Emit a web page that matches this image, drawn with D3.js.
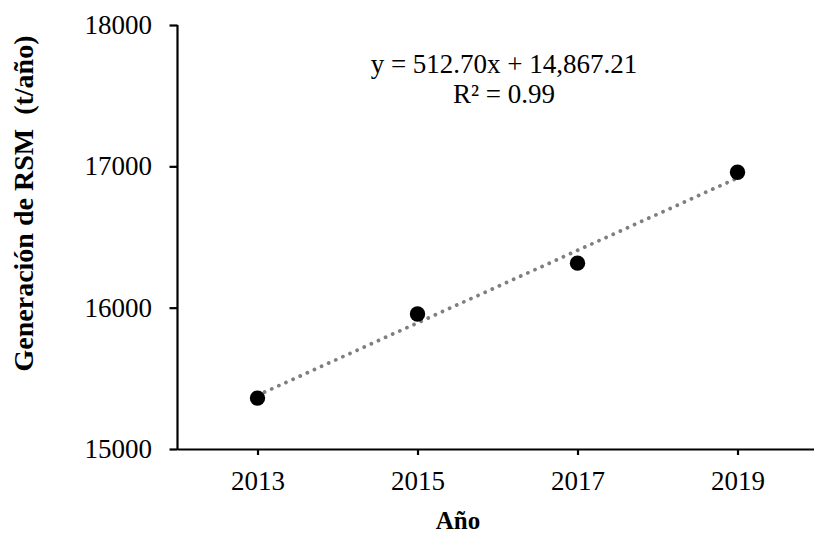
<!DOCTYPE html>
<html>
<head>
<meta charset="utf-8">
<script src="https://cdn.jsdelivr.net/npm/d3@7"></script>
<style>
  html, body { margin: 0; padding: 0; background: #fff; }
  svg { display: block; }
</style>
</head>
<body>
<script>
// Generación de residuos sólidos municipales por año
const years = [2013, 2015, 2017, 2019];
const generation = [15360, 15955, 16315, 16958];
const xTicks = [2013, 2015, 2017, 2019];
const yTicks = [15000, 16000, 17000, 18000];
// Ajuste lineal y = a·x + b con x = 1..4 (índice de cada año)
const trendSlope = 512.70;
const trendIntercept = 14867.21;
const trendIndex = [1, 4];
const trendYears = [2013, 2019];
const equationLines = ["y = 512.70x + 14,867.21", "R\u00B2 = 0.99"];

const SERIF = "'Liberation Serif', 'Times New Roman', serif";
const W = 814, H = 533;
const svg = d3.select("body").append("svg").attr("width", W).attr("height", H);

const x = d3.scaleLinear().domain([2012, 2020]).range([177.5, 817.5]);
const y = d3.scaleLinear().domain([15000, 18000]).range([449, 25]);

// Ejes
const gx = svg.append("g").attr("transform", `translate(0,${y(15000)})`)
  .call(d3.axisBottom(x).tickValues(xTicks).tickFormat(d3.format("d"))
    .tickSize(6).tickSizeOuter(0).tickPadding(16));
const gy = svg.append("g").attr("transform", `translate(${x(2012)},0)`)
  .call(d3.axisLeft(y).tickValues(yTicks).tickFormat(d3.format("d"))
    .tickSize(8).tickSizeOuter(0).tickPadding(17.5));

[gx, gy].forEach(g => {
  g.select(".domain").attr("stroke", "#000").attr("stroke-width", 2.2);
  g.selectAll(".tick line").attr("stroke", "#000").attr("stroke-width", 2.2);
  g.selectAll(".tick text").style("font-family", SERIF)
    .style("font-size", "27px").attr("fill", "#000");
});
// extend the y axis line down to meet the x axis
gy.select(".domain").attr("d", `M0,${y(18000)}V${y(15000) + 1.1}`);

// Línea de tendencia (punteada)
const trend = trendIndex.map((k, i) => ({ yr: trendYears[i], v: trendSlope * k + trendIntercept }));
svg.append("path")
  .datum(trend)
  .attr("d", d3.line().x(d => x(d.yr)).y(d => y(d.v)))
  .attr("fill", "none")
  .attr("stroke", "#7f7f7f")
  .attr("stroke-width", 3.8)
  .attr("stroke-linecap", "round")
  .attr("stroke-dasharray", "0.01 7.8");

// Puntos observados
svg.selectAll("circle.pt")
  .data(years.map((yr, i) => ({ yr, v: generation[i] })))
  .join("circle")
  .attr("class", "pt")
  .attr("cx", d => x(d.yr))
  .attr("cy", d => y(d.v))
  .attr("r", 7.7)
  .attr("fill", "#000");

// Ecuación del ajuste
svg.selectAll("text.eq")
  .data(equationLines)
  .join("text")
  .attr("class", "eq")
  .attr("x", 504)
  .attr("y", (d, i) => 73 + i * 29.5)
  .attr("text-anchor", "middle")
  .style("font-family", SERIF)
  .style("font-size", "27px")
  .attr("fill", "#000")
  .text(d => d);

// Títulos de ejes
svg.append("text")
  .attr("x", 458).attr("y", 529)
  .attr("text-anchor", "middle")
  .style("font-family", SERIF)
  .style("font-size", "25px").style("font-weight", "bold")
  .attr("fill", "#000")
  .text("Año");

svg.append("text")
  .attr("transform", "translate(33,203.5) rotate(-90)")
  .attr("text-anchor", "middle")
  .style("font-family", SERIF)
  .style("font-size", "28px").style("font-weight", "bold")
  .style("white-space", "pre")
  .attr("fill", "#000")
  .text("Generación de RSM  (t/año)");
</script>
</body>
</html>
